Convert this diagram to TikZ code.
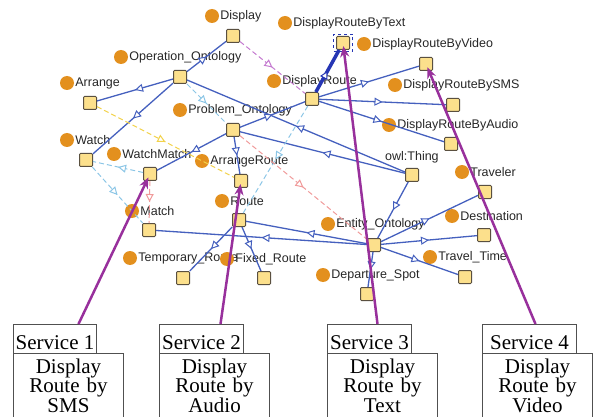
\documentclass[tikz,border=0pt]{standalone}
\usepackage{fontspec}
\setmainfont{Liberation Serif}
\newfontfamily\lblfont{Liberation Sans}
\usetikzlibrary{arrows.meta,decorations.markings}

\definecolor{edgeblue}{HTML}{4560BE}
\definecolor{selblue}{HTML}{2636B4}
\definecolor{clsfill}{HTML}{FCE08C}
\definecolor{clsborder}{HTML}{5A5040}
\definecolor{dotorange}{HTML}{E3901E}
\definecolor{relviolet}{HTML}{C47AD0}
\definecolor{relyellow}{HTML}{F2D24A}
\definecolor{relcyan}{HTML}{8CC6E6}
\definecolor{relpink}{HTML}{F09A9A}
\definecolor{svcpurple}{HTML}{98309C}
\definecolor{boxgray}{HTML}{505050}

\begin{document}
\begin{tikzpicture}[x=1pt,y=-1pt,
  cls/.style={draw=clsborder,fill=clsfill,line width=1pt,minimum size=13pt,inner sep=0pt,rounded corners=1pt},
  dot/.style={circle,fill=dotorange,minimum size=14pt,inner sep=0pt,label distance=0pt},
  lbl/.style={font=\lblfont\fontsize{12.5}{14}\selectfont,inner sep=1pt,text=black!85},
  midtri/.style={postaction={decorate},decoration={markings,mark=at position 0.5 with {\arrow{Triangle[fill=white,length=8pt,width=8pt,line width=1pt]}}}},
  isa/.style={draw=edgeblue,line width=1.3pt,midtri},
  rel/.style={draw=#1,line width=1pt,dash pattern=on 5pt off 3pt,midtri},
  svchead/.style={draw=boxgray,line width=1pt,minimum width=#1,minimum height=29pt,inner sep=0pt,anchor=north west,text height=20pt,text depth=0pt,font=\fontsize{21}{20}\selectfont},
  svcbody/.style={draw=boxgray,line width=1pt,anchor=north west,text width=110pt,align=center,inner xsep=0pt,inner ysep=5pt,font=\fontsize{21}{19.5}\selectfont},
  svcarr/.style={draw=svcpurple,line width=2.5pt,shorten >=-4pt,-{Stealth[length=11pt,width=9pt]}}]
\useasboundingbox (0,0) rectangle (600,417);
\clip (0,0) rectangle (600,417);
% classes
\node[dot,label={[lbl]right:Display}] (dispdot) at (212,16) {};
\node[cls] (disp) at (233,36) {};
\node[dot,label={[lbl]right:DisplayRouteByText}] (drtextdot) at (285,23) {};
\node[cls] (drtext) at (343,43) {};
\node[draw=selblue,dashed,line width=1pt,minimum width=19pt,minimum height=17pt] (drtextsel) at (drtext) {};
\node[dot,label={[lbl]right:DisplayRouteByVideo}] (drvideodot) at (364,44) {};
\node[cls] (drvideo) at (426,64) {};
\node[dot,label={[lbl]right:Operation\_Ontology}] (opondot) at (121,57) {};
\node[cls] (opon) at (180,77) {};
\node[dot,label={[lbl]right:DisplayRoute}] (droutedot) at (274,81) {};
\node[cls] (droute) at (312,99) {};
\node[dot,label={[lbl]right:DisplayRouteBySMS}] (drsmsdot) at (395,85) {};
\node[cls] (drsms) at (453,105) {};
\node[dot,label={[lbl]right:Arrange}] (arrangedot) at (67,83) {};
\node[cls] (arrange) at (90,103) {};
\node[dot,label={[lbl]right:Problem\_Ontology}] (probondot) at (180,110) {};
\node[cls] (probon) at (233,130) {};
\node[dot,label={[lbl]right:DisplayRouteByAudio}] (draudiodot) at (389,125) {};
\node[cls] (draudio) at (451,144) {};
\node[dot,label={[lbl]right:Watch}] (watchdot) at (67,140) {};
\node[cls] (watch) at (86,160) {};
\node[dot,label={[lbl]right:WatchMatch}] (wmatchdot) at (114,154) {};
\node[cls] (wmatch) at (150,174) {};
\node[dot,label={[lbl]right:ArrangeRoute}] (aroutedot) at (202,161) {};
\node[cls] (aroute) at (241,181) {};
\node[lbl,anchor=west] (thinglbl) at (384,157) {owl:Thing};
\node[cls] (thing) at (412,175) {};
\node[dot,label={[lbl]right:Traveler}] (travelerdot) at (462,172) {};
\node[cls] (traveler) at (485,192) {};
\node[dot,label={[lbl]right:Route}] (routedot) at (222,201) {};
\node[cls] (route) at (239,220) {};
\node[dot,label={[lbl]right:Destination}] (destdot) at (452,216) {};
\node[cls] (dest) at (484,235) {};
\node[dot,label={[lbl]right:Match}] (matchdot) at (132,211) {};
\node[cls] (match) at (149,230) {};
\node[dot,label={[lbl]right:Entity\_Ontology}] (entitydot) at (328,224) {};
\node[cls] (entity) at (374,245) {};
\node[dot,label={[lbl]right:Temporary\_Route}] (troutedot) at (130,258) {};
\node[cls] (troute) at (183,278) {};
\node[dot,label={[lbl]right:Fixed\_Route}] (froutedot) at (227,259) {};
\node[cls] (froute) at (264,278) {};
\node[dot,label={[lbl]right:Travel\_Time}] (ttimedot) at (430,257) {};
\node[cls] (ttime) at (465,277) {};
\node[dot,label={[lbl]right:Departure\_Spot}] (dspotdot) at (323,275) {};
\node[cls] (dspot) at (367,294) {};
% subclass arcs
\draw[isa] (thing) -- (opon);
\draw[isa] (thing) -- (probon);
\draw[isa] (thing) -- (entity);
\draw[isa] (opon) -- (disp);
\draw[isa] (opon) -- (arrange);
\draw[isa] (opon) -- (watch);
\draw[isa] (probon) -- (droute);
\draw[isa] (probon) -- (wmatch);
\draw[isa] (probon) -- (aroute);
\draw[isa,draw=selblue,line width=3.5pt] (droute) -- (drtext);
\draw[isa] (droute) -- (drvideo);
\draw[isa] (droute) -- (drsms);
\draw[isa] (droute) -- (draudio);
\draw[isa] (entity) -- (route);
\draw[isa] (entity) -- (match);
\draw[isa] (entity) -- (traveler);
\draw[isa] (entity) -- (dest);
\draw[isa] (entity) -- (ttime);
\draw[isa] (entity) -- (dspot);
\draw[isa] (route) -- (troute);
\draw[isa] (route) -- (froute);
% other relations
\draw[rel=relviolet] (disp) -- (droute);
\draw[rel=relyellow] (arrange) -- (aroute);
\draw[rel=relcyan] (wmatch) -- (watch);
\draw[rel=relcyan] (watch) -- (match);
\draw[rel=relpink] (wmatch) -- (match);
\draw[rel=relcyan] (opon) -- (probon);
\draw[rel=relcyan] (droute) -- (route);
\draw[rel=relpink] (probon) -- (entity);
% services
\node[svchead=83pt] (s1) at (13,324) {Service 1};
\node[svcbody] (b1) at (13,353) {Display\\Route by\\SMS};
\node[svchead=84pt] (s2) at (159,324) {Service 2};
\node[svcbody] (b2) at (159,353) {Display\\Route by\\Audio};
\node[svchead=84pt] (s3) at (327,324) {Service 3};
\node[svcbody] (b3) at (327,353) {Display\\Route by\\Text};
\node[svchead=94pt] (s4) at (482,324) {Service 4};
\node[svcbody] (b4) at (482,353) {Display\\Route by\\Video};
\draw[svcarr] ([xshift=23.5pt]s1.north) -- (wmatch);
\draw[svcarr] ([xshift=19pt]s2.north) -- (aroute);
\draw[svcarr] ([xshift=8pt]s3.north) -- (drtext);
\draw[svcarr] ([xshift=6pt]s4.north) -- (drvideo);
\end{tikzpicture}
\end{document}
